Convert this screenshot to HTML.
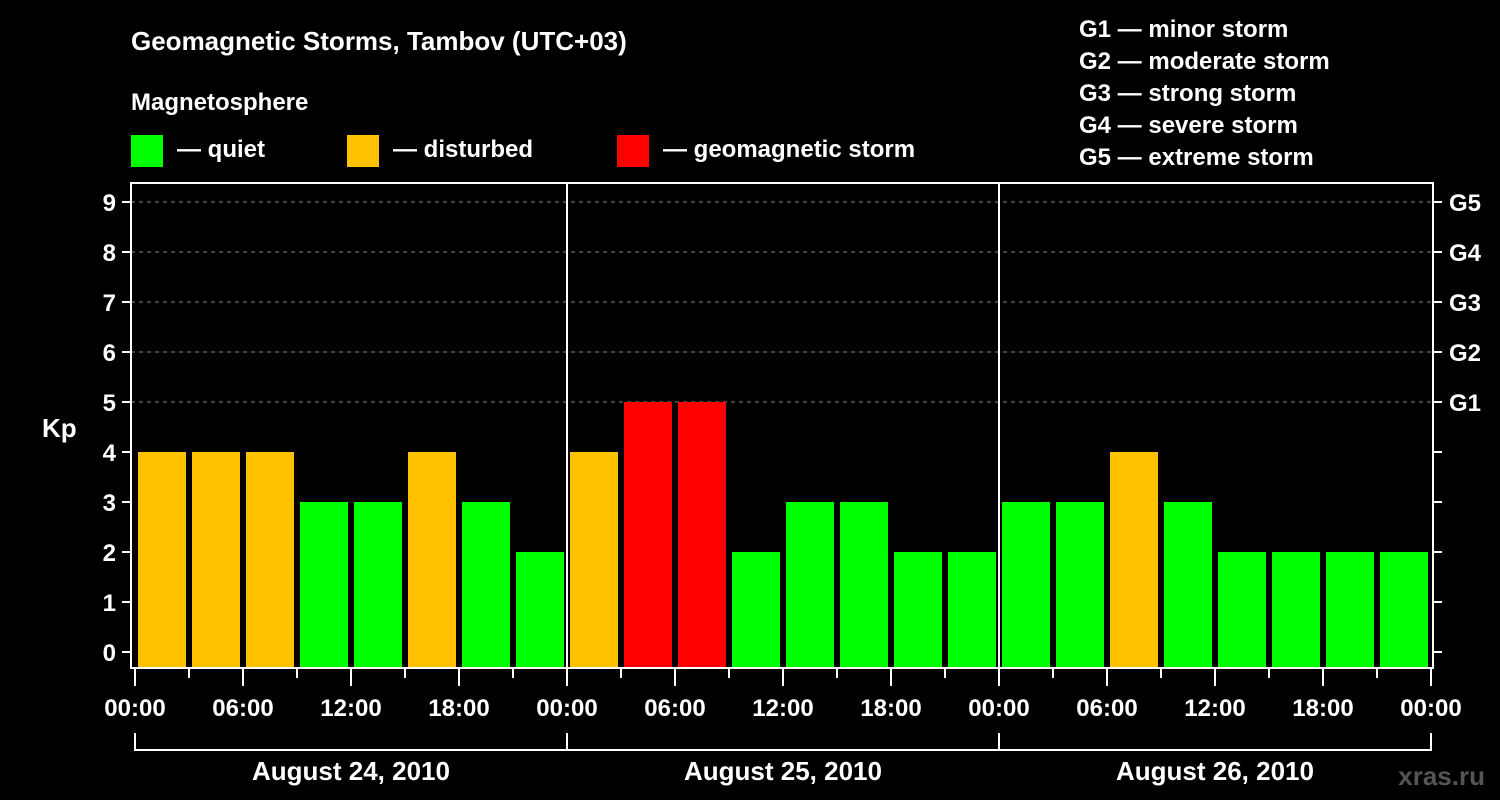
<!DOCTYPE html>
<html><head><meta charset="utf-8"><style>
body{margin:0;background:#000;}
svg{display:block;font-family:"Liberation Sans",Arial,sans-serif;font-weight:bold;}
</style></head><body>
<svg id="chart" width="1500" height="800" viewBox="0 0 1500 800">
<rect width="1500" height="800" fill="#000"/>
<text x="131" y="50" fill="#fff" font-size="26">Geomagnetic Storms, Tambov (UTC+03)</text>
<text x="131" y="110" fill="#fff" font-size="24">Magnetosphere</text>
<g><rect x="131" y="135" width="32" height="32" fill="#00ff00"/><text x="177" y="157" fill="#fff" font-size="24">— quiet</text></g>
<g><rect x="347" y="135" width="32" height="32" fill="#ffc000"/><text x="393" y="157" fill="#fff" font-size="24">— disturbed</text></g>
<g><rect x="617" y="135" width="32" height="32" fill="#ff0000"/><text x="663" y="157" fill="#fff" font-size="24">— geomagnetic storm</text></g>
<g fill="#fff" font-size="24">
<text x="1079" y="37">G1 — minor storm</text>
<text x="1079" y="69">G2 — moderate storm</text>
<text x="1079" y="101">G3 — strong storm</text>
<text x="1079" y="133">G4 — severe storm</text>
<text x="1079" y="165">G5 — extreme storm</text>
</g>
<text x="42" y="437" fill="#fff" font-size="26">Kp</text>
<text x="1485" y="785" fill="#555" font-size="26" text-anchor="end">xras.ru</text>
<g id="plot"></g>
</svg>
<script>
const days = ["August 24, 2010","August 25, 2010","August 26, 2010"];
const kpDay1 = [4,4,4,3,3,4,3,2];
const kpDay2 = [4,5,5,2,3,3,2,2];
const kpDay3 = [3,3,4,3,2,2,2,2];
const hourLabels = ["00:00","06:00","12:00","18:00"];
const yTicks = [0,1,2,3,4,5,6,7,8,9];
const gLabels = ["G1","G2","G3","G4","G5"];
const kp = kpDay1.concat(kpDay2, kpDay3);

const NS = "http://www.w3.org/2000/svg";
const g = document.getElementById("plot");
const X0 = 135, slotW = 54, dayW = 432;
const xPos = i => X0 + i * slotW;
const yPos = v => 652 - 50 * v;
function el(tag, attrs, text) {
  const e = document.createElementNS(NS, tag);
  for (const k in attrs) e.setAttribute(k, attrs[k]);
  if (text !== undefined) e.textContent = text;
  g.appendChild(e);
  return e;
}
// grid
for (let v = 5; v <= 9; v++) {
  const l = el("line", {x1:131, x2:1433, y1:yPos(v), y2:yPos(v), stroke:"#888", "stroke-dasharray":"4,4", "stroke-width":1});
  
  
}
// bars
kp.forEach((v, i) => {
  const c = v >= 5 ? "#ff0000" : v >= 4 ? "#ffc000" : "#00ff00";
  const b = el("rect", {x:xPos(i)+3, y:yPos(v), width:48, height:667 - yPos(v), fill:c});
  
  
});
// frame
const fr = el("rect", {x:131, y:183, width:1302, height:485, fill:"none", stroke:"#fff", "stroke-width":2});


for (let d = 1; d < days.length; d++) {
  const l = el("line", {x1:X0+d*dayW, x2:X0+d*dayW, y1:183, y2:668, stroke:"#fff", "stroke-width":2});
  
  
}
// y ticks
yTicks.forEach(v => {
  el("line", {x1:122, x2:131, y1:yPos(v), y2:yPos(v), stroke:"#fff", "stroke-width":2});
  el("line", {x1:1433, x2:1442, y1:yPos(v), y2:yPos(v), stroke:"#fff", "stroke-width":2});
  const t = el("text", {x:116, y:yPos(v)+9, fill:"#fff", "font-size":24, "text-anchor":"end"}, String(v));
  
  
});
gLabels.forEach((s, i) => {
  const t = el("text", {x:1449, y:yPos(5+i)+9, fill:"#fff", "font-size":24}, s);
  
  
});
// x ticks
for (let i = 0; i <= kp.length; i++) {
  const major = i % 2 === 0;
  el("line", {x1:xPos(i), x2:xPos(i), y1:668, y2:major?686:678, stroke:"#fff", "stroke-width":2});
  if (major) {
    const t = el("text", {x:xPos(i), y:716, fill:"#fff", "font-size":24, "text-anchor":"middle"}, hourLabels[(i/2)%4]);
    
    
  }
}
// day brackets
days.forEach((d, k) => {
  const x = X0 + k*dayW;
  el("line", {x1:x, x2:x+dayW, y1:750, y2:750, stroke:"#fff", "stroke-width":2});
  el("line", {x1:x, x2:x, y1:733, y2:751, stroke:"#fff", "stroke-width":2});
  if (k === days.length-1) el("line", {x1:x+dayW, x2:x+dayW, y1:733, y2:751, stroke:"#fff", "stroke-width":2});
  const t = el("text", {x:x+dayW/2, y:780, fill:"#fff", "font-size":26, "text-anchor":"middle"}, d);
  
  
});
</script>
</body></html>
